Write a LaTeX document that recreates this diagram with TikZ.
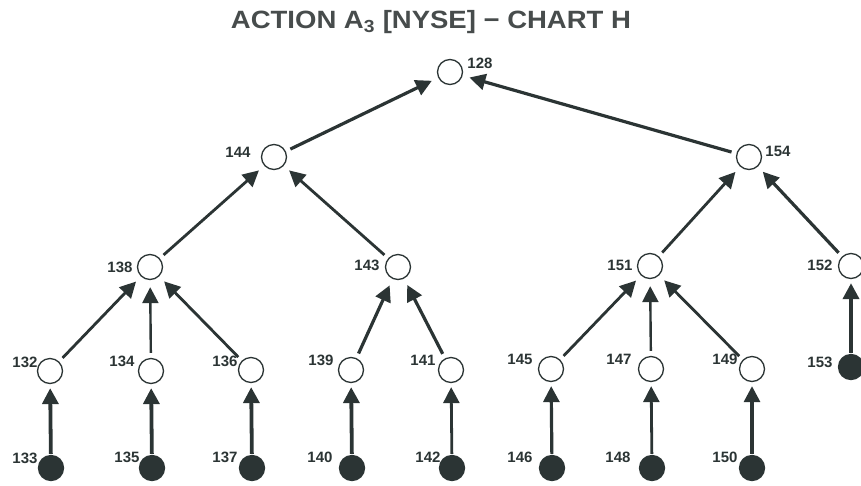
\documentclass[tikz,border=0pt]{standalone}
\usepackage{fontspec}
\setmainfont{Liberation Sans}
\usetikzlibrary{arrows.meta}
\definecolor{ink}{HTML}{2B3434}
\definecolor{titlegrey}{HTML}{474C4C}

\begin{document}
\begin{tikzpicture}[x=1pt,y=-1pt,
  open/.style={circle,draw=ink,line width=1.3pt,minimum size=25pt,inner sep=0pt,fill=white},
  leaf/.style={circle,draw=ink,line width=1.3pt,minimum size=25pt,inner sep=0pt,fill=ink},
  num/.style={font=\bfseries\fontsize{15}{15}\selectfont,text=ink,inner sep=0pt},
  link/.style={draw=ink,line width=2.8pt,-{Triangle[length=16pt,width=16pt]},shorten >=7pt,shorten <=5pt},
  stem/.style={link,line width=3.8pt,shorten >=4pt,shorten <=1pt},
  thinstem/.style={stem,line width=2.8pt}
]
\useasboundingbox (0,0) rectangle (861,485);

% title
\node[font=\bfseries\fontsize{25}{27}\selectfont,text=titlegrey,inner sep=0pt,xscale=1.1]
  (title) at (431,22) {ACTION A\textsubscript{3} [NYSE] − CHART H};

% tree nodes
\node[open] (n128) at (450,72) {};
\node[open] (n144) at (274,157) {};
\node[open] (n154) at (749,157) {};
\node[open] (n138) at (150,267) {};
\node[open] (n143) at (398,267) {};
\node[open] (n151) at (650,266) {};
\node[open] (n152) at (851,266) {};
\node[open] (n132) at (50,371) {};
\node[open] (n134) at (151,371) {};
\node[open] (n136) at (251,370) {};
\node[open] (n139) at (351,370) {};
\node[open] (n141) at (451,370) {};
\node[open] (n145) at (551,369) {};
\node[open] (n147) at (651,369) {};
\node[open] (n149) at (752,369) {};
\node[leaf] (n153) at (851,367) {};
\node[leaf] (n133) at (51,468) {};
\node[leaf] (n135) at (152,468) {};
\node[leaf] (n137) at (252,468) {};
\node[leaf] (n140) at (352,468) {};
\node[leaf] (n142) at (452,468) {};
\node[leaf] (n146) at (552,468) {};
\node[leaf] (n148) at (652,468) {};
\node[leaf] (n150) at (752,468) {};

% numbers
\node[num] (l128) at (480,63) {128};
\node[num] (l144) at (238,152) {144};
\node[num] (l154) at (778,151) {154};
\node[num] (l138) at (120,267) {138};
\node[num] (l143) at (367,265) {143};
\node[num] (l151) at (620,265) {151};
\node[num] (l152) at (820,265) {152};
\node[num] (l132) at (25,362) {132};
\node[num] (l134) at (122,361) {134};
\node[num] (l136) at (225,361) {136};
\node[num] (l139) at (321,360) {139};
\node[num] (l141) at (423,360) {141};
\node[num] (l145) at (520,359) {145};
\node[num] (l147) at (619,359) {147};
\node[num] (l149) at (725,359) {149};
\node[num] (l153) at (820,362) {153};
\node[num] (l133) at (25,458) {133};
\node[num] (l135) at (127,457) {135};
\node[num] (l137) at (225,457) {137};
\node[num] (l140) at (320,457) {140};
\node[num] (l142) at (428,457) {142};
\node[num] (l146) at (520,457) {146};
\node[num] (l148) at (618,457) {148};
\node[num] (l150) at (725,457) {150};

% upper links
\draw[link,line width=3.2pt] (n144) -- (n128);
\draw[link,line width=3.2pt] (n154) -- (n128);
\draw[link] (n138) -- (n144);
\draw[link] (n143) -- (n144);
\draw[link] (n151) -- (n154);
\draw[link,line width=3.2pt] (n152) -- (n154);
\draw[link] (n132) -- (n138);
\draw[link,line width=2.4pt] (n134) -- (n138);
\draw[link] (n136) -- (n138);
\draw[link,line width=3.2pt] (n139) -- (n143);
\draw[link,line width=3.2pt] (n141) -- (n143);
\draw[link] (n145) -- (n151);
\draw[link,line width=2.4pt] (n147) -- (n151);
\draw[link] (n149) -- (n151);

% stems from the filled nodes
\draw[stem] (n133) -- (n132);
\draw[stem] (n135) -- (n134);
\draw[stem] (n137) -- (n136);
\draw[stem] (n140) -- (n139);
\draw[thinstem] (n142) -- (n141);
\draw[stem,line width=3.2pt] (n146) -- (n145);
\draw[thinstem] (n148) -- (n147);
\draw[stem,line width=3.2pt] (n150) -- (n149);
\draw[stem] (n153) -- (n152);
\end{tikzpicture}
\end{document}
